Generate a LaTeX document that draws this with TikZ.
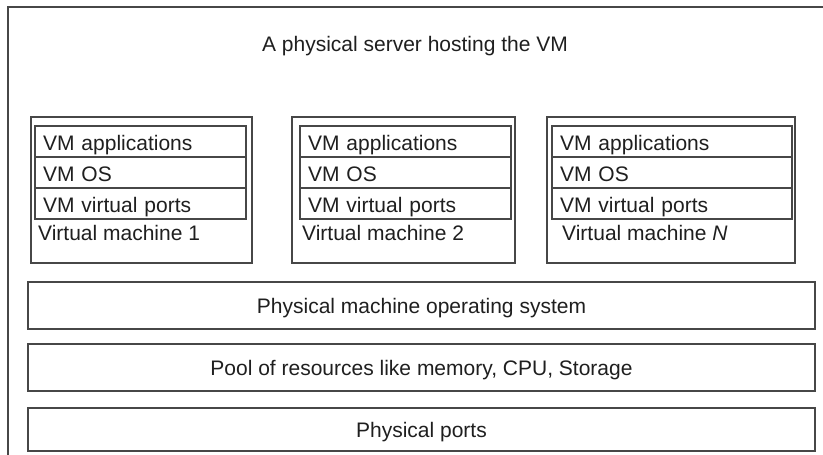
\documentclass[tikz,border=0pt]{standalone}
\usepackage{fontspec}
\setmainfont{Liberation Sans}
\begin{document}
\begin{tikzpicture}[x=1pt,y=-1pt,
  every node/.style={font=\fontsize{21}{24}\selectfont, text=black!88},
  frame/.style={draw=black!72, line width=1.4pt},
  box/.style={draw=black!72, line width=1.4pt, inner sep=0pt, text height=18pt, text depth=2pt},
  row/.style={draw=black!72, line width=1.4pt, minimum height=31pt, inner xsep=8pt, inner ysep=0pt, align=left, text height=19pt, text depth=2pt},
  lbl/.style={anchor=west, inner sep=0pt, text height=19pt, text depth=2pt}
]
\useasboundingbox (0,0) rectangle (823,455);
\fill[white] (0,0) rectangle (823,455);
% outer (cropped) frame
\coordinate (fl) at (8,455);
\coordinate (ftl) at (8,7);
\coordinate (ftr) at (823,7);
\draw[frame] (fl) -- (ftl) -- (ftr);
\node (title) at (415,46) {A physical server hosting the VM};

% VM 1
\node[box, minimum width=221pt, minimum height=146pt] (vm1) at (141.5,190) {};
\node[row, text width=195pt] (a1) at (140.5,141.5) {VM applications};
\node[row, text width=195pt] (o1) at (140.5,172.5) {VM OS};
\node[row, text width=195pt] (p1) at (140.5,203.5) {VM virtual ports};
\node[lbl] (n1) at (38,232) {Virtual machine 1};

% VM 2
\node[box, minimum width=223pt, minimum height=146pt] (vm2) at (403.5,190) {};
\node[row, text width=195pt] (a2) at (405.5,141.5) {VM applications};
\node[row, text width=195pt] (o2) at (405.5,172.5) {VM OS};
\node[row, text width=195pt] (p2) at (405.5,203.5) {VM virtual ports};
\node[lbl] (n2) at (302,232) {Virtual machine 2};

% VM N
\node[box, minimum width=248pt, minimum height=146pt] (vm3) at (671,190) {};
\node[row, text width=224pt] (a3) at (672,141.5) {VM applications};
\node[row, text width=224pt] (o3) at (672,172.5) {VM OS};
\node[row, text width=224pt] (p3) at (672,203.5) {VM virtual ports};
\node[lbl] (n3) at (562,232) {Virtual machine \textit{N}};

% bars
\node[box, minimum width=787pt, minimum height=47pt] (os) at (421.5,305.5) {Physical machine operating system};
\node[box, minimum width=787pt, minimum height=47pt] (pool) at (421.5,367.5) {Pool of resources like memory, CPU, Storage};
\node[box, minimum width=787pt, minimum height=43pt] (ports) at (421.5,429.5) {Physical ports};
\end{tikzpicture}
\end{document}
